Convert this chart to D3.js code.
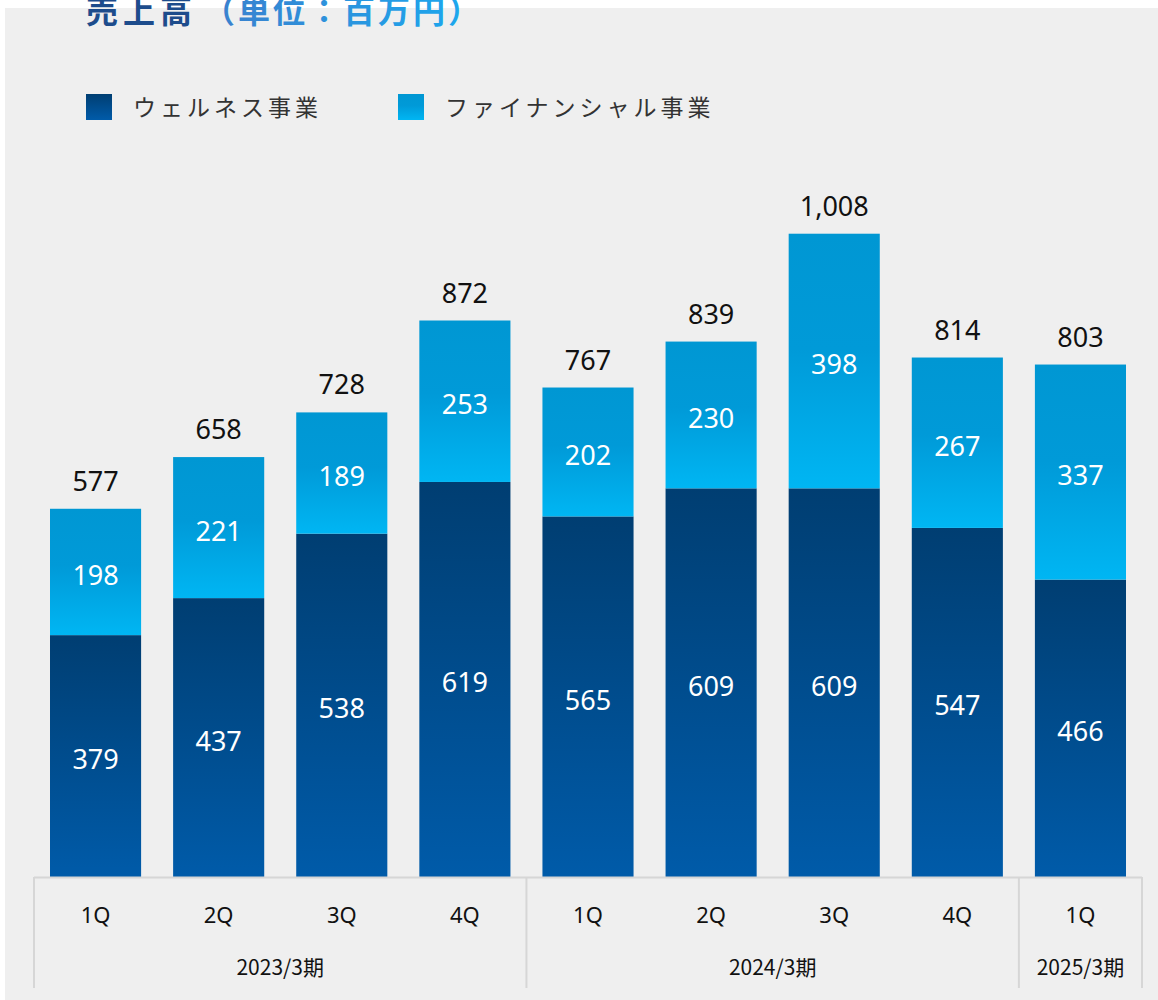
<!DOCTYPE html>
<html>
<head>
<meta charset="utf-8">
<script src="https://cdn.jsdelivr.net/npm/d3@7"></script>
<style>
  body { margin: 0; background: #ffffff; }
  svg { display: block; }
</style>
</head>
<body>
<div id="chart"></div>
<script>
// data
const quarters = ["1Q", "2Q", "3Q", "4Q", "1Q", "2Q", "3Q", "4Q", "1Q"];
const periods = ["2023/3期", "2023/3期", "2023/3期", "2023/3期", "2024/3期", "2024/3期", "2024/3期", "2024/3期", "2025/3期"];
const wellness = [379, 437, 538, 619, 565, 609, 609, 547, 466];
const finance = [198, 221, 189, 253, 202, 230, 398, 267, 337];
const totals = [577, 658, 728, 872, 767, 839, 1008, 814, 803];
const seriesNames = ["ウェルネス事業", "ファイナンシャル事業"];

const width = 1158, height = 1000;
const fontNum = "'Noto Sans', 'Open Sans', sans-serif";
const fontJa = "'Noto Sans CJK JP', 'Noto Sans', sans-serif";

const svg = d3.select("#chart").append("svg")
    .attr("width", width)
    .attr("height", height);

const defs = svg.append("defs");

const gWell = defs.append("linearGradient").attr("id", "gWell")
    .attr("x1", 0).attr("y1", 0).attr("x2", 0).attr("y2", 1);
gWell.append("stop").attr("offset", "0%").attr("stop-color", "#003e72");
gWell.append("stop").attr("offset", "100%").attr("stop-color", "#005ba9");

const gFin = defs.append("linearGradient").attr("id", "gFin")
    .attr("x1", 0).attr("y1", 0).attr("x2", 0).attr("y2", 1);
gFin.append("stop").attr("offset", "0%").attr("stop-color", "#0097d3");
gFin.append("stop").attr("offset", "45%").attr("stop-color", "#009ad8");
gFin.append("stop").attr("offset", "100%").attr("stop-color", "#00b6f3");

const gTitle = defs.append("linearGradient").attr("id", "gTitle")
    .attr("x1", 0).attr("y1", 0).attr("x2", 1).attr("y2", 0);
gTitle.append("stop").attr("offset", "0%").attr("stop-color", "#4a6cbd");
gTitle.append("stop").attr("offset", "100%").attr("stop-color", "#1aaaf0");

// background panel
svg.append("rect")
    .attr("x", 5).attr("y", 8)
    .attr("width", width - 5).attr("height", height - 8)
    .attr("fill", "#efefef");

// title (top is cut by the page edge, as in the original)
const title = svg.append("text")
    .attr("x", 86).attr("y", 23)
    .style("font-family", fontJa)
    .style("font-size", "32px")
    .style("font-weight", "bold");
title.append("tspan").attr("fill", "#1d4c8c")
    .style("letter-spacing", "5px").text("売上高");
title.append("tspan").attr("fill", "url(#gTitle)")
    .attr("dx", 6)
    .style("letter-spacing", "3px").text("（単位：百万円）");

// legend
const legendX = [86, 398];
const legend = svg.selectAll(".legend")
    .data(seriesNames)
    .enter().append("g")
    .attr("transform", (d, i) => `translate(${legendX[i]},94)`);
legend.append("rect")
    .attr("width", 26).attr("height", 26)
    .attr("fill", (d, i) => i === 0 ? "url(#gWell)" : "url(#gFin)");
legend.append("text")
    .attr("x", 47).attr("y", 22)
    .style("font-family", fontJa)
    .style("font-size", "23px")
    .style("letter-spacing", "4px")
    .attr("fill", "#333")
    .text(d => d);

// scales
const idx = d3.range(quarters.length);
const x = d3.scaleBand()
    .domain(idx)
    .range([34, 1142])
    .paddingInner(0.26)
    .paddingOuter(0.13);

const y = d3.scaleLinear()
    .domain([0, 1100])
    .range([877, 175]);

// bars
const bars = svg.selectAll(".bar")
    .data(idx)
    .enter().append("g");

bars.append("rect")
    .attr("x", i => x(i))
    .attr("y", i => y(wellness[i]))
    .attr("width", x.bandwidth())
    .attr("height", i => y(0) - y(wellness[i]))
    .attr("fill", "url(#gWell)");

bars.append("rect")
    .attr("x", i => x(i))
    .attr("y", i => y(totals[i]))
    .attr("width", x.bandwidth())
    .attr("height", i => y(wellness[i]) - y(totals[i]))
    .attr("fill", "url(#gFin)");

// labels
const cx = i => x(i) + x.bandwidth() / 2;

bars.append("text")
    .attr("x", cx)
    .attr("y", i => (y(0) + y(wellness[i])) / 2 + 13)
    .attr("text-anchor", "middle")
    .style("font-family", fontNum)
    .style("font-size", "27px")
    .attr("fill", "#fff")
    .text(i => wellness[i]);

bars.append("text")
    .attr("x", cx)
    .attr("y", i => (y(wellness[i]) + y(totals[i])) / 2 + 13)
    .attr("text-anchor", "middle")
    .style("font-family", fontNum)
    .style("font-size", "27px")
    .attr("fill", "#fff")
    .text(i => finance[i]);

bars.append("text")
    .attr("x", cx)
    .attr("y", i => y(totals[i]) - 18)
    .attr("text-anchor", "middle")
    .style("font-family", fontNum)
    .style("font-size", "27px")
    .attr("fill", "#111")
    .text(i => d3.format(",")(totals[i]));

// category axis
const axisG = svg.append("g");
axisG.append("line")
    .attr("x1", 34).attr("x2", 1142)
    .attr("y1", 877.5).attr("y2", 877.5)
    .attr("stroke", "#d6d6d6").attr("stroke-width", 2);

axisG.selectAll(".q")
    .data(idx)
    .enter().append("text")
    .attr("x", cx)
    .attr("y", 923)
    .attr("text-anchor", "middle")
    .style("font-family", fontNum)
    .style("font-size", "22px")
    .attr("fill", "#111")
    .text(i => quarters[i]);

// period groups
const groups = d3.groups(idx, i => periods[i]);
const seps = [34];
groups.forEach(([name, items]) => {
    const x0 = x(items[0]) - x.step() * x.paddingInner() / 2;
    const x1 = x(items[items.length - 1]) + x.bandwidth() + x.step() * x.paddingInner() / 2;
    seps.push(x1);
    axisG.append("text")
        .attr("x", (x0 + x1) / 2)
        .attr("y", 975)
        .attr("text-anchor", "middle")
        .style("font-family", fontJa)
        .style("font-size", "21px")
        .attr("fill", "#111")
        .text(name);
});

axisG.selectAll(".sep")
    .data(seps)
    .enter().append("line")
    .attr("x1", d => d).attr("x2", d => d)
    .attr("y1", 877).attr("y2", 988)
    .attr("stroke", "#d6d6d6").attr("stroke-width", 2);
</script>
</body>
</html>
